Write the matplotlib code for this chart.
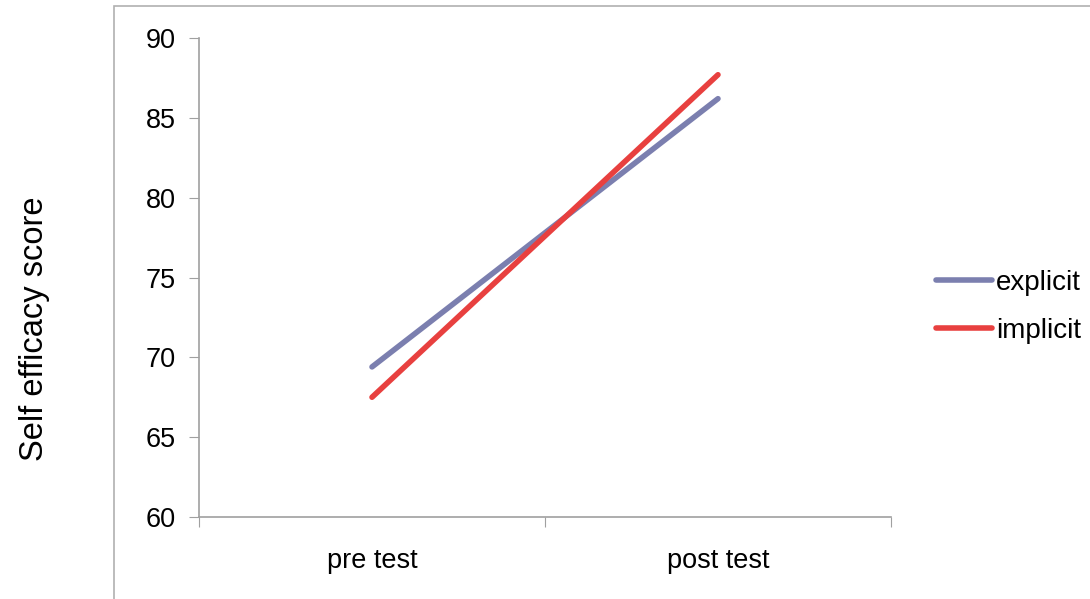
import matplotlib
matplotlib.use("Agg")
import matplotlib.pyplot as plt
from matplotlib.patches import Rectangle

plt.rcParams["font.family"] = ["Liberation Sans", "DejaVu Sans"]

categories = ["pre test", "post test"]
explicit = [69.4, 86.2]
implicit = [67.5, 87.7]
yticks = [60, 65, 70, 75, 80, 85, 90]

W, H = 1090, 599
fig = plt.figure(figsize=(W / 100, H / 100), dpi=100)

# outer chart frame (partly cut off at right/bottom)
fig.patches.append(Rectangle((114 / W, -0.1), 1.2, 1.1 - 6 / H, transform=fig.transFigure,
                             fill=False, edgecolor="#b0b0b0", linewidth=1.2))

ax = fig.add_axes([199 / W, 1 - 517 / H, (891 - 199) / W, (517 - 38) / H])
xs = [0.5, 1.5]
ax.plot(xs, explicit, color="#7B7FAF", linewidth=4, solid_capstyle="round", label="explicit")
ax.plot(xs, implicit, color="#E8403F", linewidth=4, solid_capstyle="round", label="implicit")

ax.set_xlim(0, 2)
ax.set_ylim(60, 90)
ax.set_yticks(yticks)
ax.set_xticks([0, 1, 2])
ax.set_xticklabels([])
ax.set_xticks(xs, minor=True)
ax.set_xticklabels(categories, minor=True)
ax.tick_params(axis="x", which="minor", length=0, pad=22, labelsize=19.5)
ax.tick_params(axis="x", which="major", length=7, direction="out", color="#a0a0a0")
ax.tick_params(axis="y", length=7, direction="out", color="#a0a0a0", labelsize=19.5, pad=10)

for side in ("top", "right"):
    ax.spines[side].set_visible(False)
for side in ("left", "bottom"):
    ax.spines[side].set_color("#a0a0a0")
    ax.spines[side].set_linewidth(1.2)

fig.text(35 / W, 1 - 329 / H, "Self efficacy score", rotation=90, ha="center", va="center",
         fontsize=23.5)

ax.legend(loc="center left", bbox_to_anchor=(925 / W, 1 - 307 / H), bbox_transform=fig.transFigure,
          frameon=False, fontsize=20, handlelength=2.0, handletextpad=0.15, labelspacing=0.8,
          borderaxespad=0)

fig.savefig("out.png", dpi=100, facecolor="white")
